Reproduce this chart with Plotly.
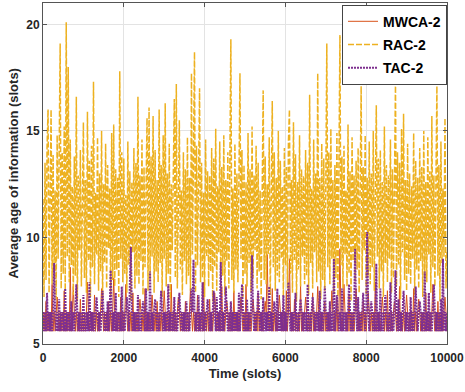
import plotly.graph_objects as go

# Time axis samples (slots)
slots = list(range(0, 10001, 25))

mwca_2 = [
    5.6, 6.5, 5.6, 7.0, 5.6, 6.5, 5.6, 6.5, 5.6, 7.8,
    5.6, 6.5, 5.6, 6.5, 7.2, 6.5, 5.6, 6.5, 5.6, 6.5,
    5.6, 7.5, 5.6, 6.5, 5.6, 6.5, 5.6, 8.6, 5.6, 6.5,
    7.7, 6.5, 5.6, 6.5, 5.6, 6.5, 5.6, 7.1, 5.6, 6.5,
    5.6, 6.5, 5.6, 6.5, 7.9, 6.5, 5.6, 6.5, 5.6, 6.5,
    5.6, 7.3, 5.6, 6.5, 5.6, 6.5, 5.6, 6.5, 7.6, 6.5,
    5.6, 6.5, 5.6, 6.5, 5.6, 7.0, 5.6, 6.5, 5.6, 6.5,
    8.1, 6.5, 5.6, 6.5, 5.6, 6.5, 5.6, 7.2, 5.6, 6.5,
    5.6, 6.5, 7.8, 6.5, 5.6, 6.5, 5.6, 6.5, 5.6, 7.4,
    5.6, 6.5, 5.6, 6.5, 5.6, 6.5, 7.1, 6.5, 5.6, 6.5,
    5.6, 7.6, 5.6, 6.5, 5.6, 6.5, 5.6, 6.5, 7.3, 6.5,
    5.6, 6.5, 5.6, 7.0, 5.6, 6.5, 5.6, 6.5, 5.6, 6.5,
    7.5, 6.5, 5.6, 6.5, 5.6, 6.5, 5.6, 7.8, 5.6, 6.5,
    5.6, 6.5, 5.6, 6.5, 7.2, 6.5, 5.6, 6.5, 5.6, 6.5,
    5.6, 7.0, 5.6, 6.5, 5.6, 6.5, 7.6, 6.5, 5.6, 6.5,
    5.6, 6.5, 5.6, 7.3, 5.6, 6.5, 5.6, 6.5, 5.6, 7.9,
    5.6, 6.5, 5.6, 6.5, 5.6, 7.1, 5.6, 6.5, 5.6, 6.5,
    7.4, 6.5, 5.6, 6.5, 5.6, 6.5, 5.6, 7.7, 5.6, 6.5,
    5.6, 6.5, 7.0, 6.5, 5.6, 6.5, 5.6, 6.5, 5.6, 7.5,
    5.6, 6.5, 5.6, 6.5, 5.6, 6.5, 7.2, 6.5, 5.6, 6.5,
    5.6, 7.8, 5.6, 6.5, 5.6, 6.5, 5.6, 6.5, 7.1, 6.5,
    5.6, 6.5, 5.6, 7.4, 5.6, 6.5, 5.6, 6.5, 5.6, 6.5,
    7.0, 6.5, 9.2, 6.5, 5.6, 6.5, 5.6, 7.6, 5.6, 6.5,
    5.6, 6.5, 5.6, 6.5, 7.3, 6.5, 5.6, 6.5, 5.6, 6.5,
    5.6, 7.5, 5.6, 6.5, 9.0, 6.5, 5.6, 6.5, 5.6, 7.1,
    5.6, 6.5, 5.6, 6.5, 5.6, 7.8, 5.6, 6.5, 5.6, 6.5,
    7.2, 6.5, 5.6, 6.5, 5.6, 6.5, 5.6, 7.4, 5.6, 6.5,
    5.6, 6.5, 7.7, 6.5, 5.6, 6.5, 5.6, 6.5, 5.6, 7.0,
    5.6, 6.5, 5.6, 6.5, 5.6, 6.5, 7.5, 6.5, 5.6, 6.5,
    5.6, 7.1, 5.6, 6.5, 9.47, 6.5, 5.6, 6.5, 7.8, 6.5,
    5.6, 6.5, 5.6, 7.3, 5.6, 6.5, 5.6, 6.5, 5.6, 6.5,
    7.6, 6.5, 5.6, 6.5, 5.6, 6.5, 5.6, 7.0, 5.6, 6.5,
    5.6, 6.5, 7.4, 6.5, 5.6, 6.5, 5.6, 6.5, 5.6, 7.9,
    5.6, 6.5, 5.6, 6.5, 5.6, 6.5, 7.2, 6.5, 5.6, 6.5,
    5.6, 7.5, 5.6, 6.5, 5.6, 6.5, 5.6, 6.5, 7.0, 6.5,
    5.6, 6.5, 5.6, 7.7, 5.6, 6.5, 5.6, 6.5, 5.6, 6.5,
    7.3, 6.5, 5.6, 6.5, 5.6, 6.5, 5.6, 7.6, 5.6, 6.5,
    5.6, 6.5, 7.1, 6.5, 5.6, 6.5, 5.6, 6.5, 5.6, 7.4,
    5.6, 6.5, 5.6, 6.5, 5.6, 6.5, 7.8, 6.5, 5.6, 6.5,
    5.6, 7.0, 5.6, 6.5, 5.6, 6.5, 5.6, 6.5, 7.2, 6.5,
    5.6,
]

rac_2 = [
    11.8, 7.2, 13.5, 8.0, 14.2, 16.0, 7.4, 12.6, 16.0, 7.8,
    13.9, 8.4, 12.2, 7.1, 14.8, 9.0, 13.1, 19.1, 7.6, 14.0,
    8.3, 15.2, 7.5, 20.1, 9.1, 18.0, 7.9, 14.6, 8.7, 12.4,
    7.3, 13.8, 8.2, 16.6, 7.0, 12.9, 9.4, 14.1, 7.7, 13.3,
    15.4, 8.1, 12.7, 7.4, 15.9, 8.9, 13.6, 7.2, 14.3, 8.6,
    17.3, 7.8, 12.1, 9.2, 14.7, 7.5, 13.0, 8.4, 15.0, 7.1,
    12.5, 8.8, 14.4, 7.6, 13.4, 9.5, 12.3, 7.3, 14.9, 8.0,
    15.3, 7.7, 13.2, 8.5, 12.8, 7.2, 17.8, 9.0, 14.0, 7.9,
    13.7, 8.3, 12.0, 7.4, 14.5, 8.7, 13.1, 7.0, 12.6, 9.3,
    14.2, 7.6, 13.5, 8.2, 16.6, 7.8, 12.9, 8.9, 14.6, 7.3,
    13.3, 8.6, 12.4, 15.6, 7.5, 16.1, 8.0, 13.8, 9.1, 15.7,
    7.4, 14.1, 8.4, 12.7, 7.9, 16.0, 8.8, 13.4, 7.2, 14.8,
    9.0, 16.3, 7.7, 13.0, 8.3, 14.4, 7.1, 12.5, 9.4, 14.9,
    16.5, 8.1, 17.2, 7.6, 13.6, 15.5, 8.5, 12.2, 7.3, 14.0,
    8.9, 13.2, 7.8, 14.7, 8.2, 12.8, 7.5, 17.7, 9.2, 13.9,
    18.7, 7.4, 14.3, 8.7, 12.6, 17.0, 7.9, 13.5, 8.1, 12.1,
    7.2, 14.6, 9.1, 13.1, 7.7, 12.9, 8.4, 14.2, 7.0, 13.7,
    8.6, 15.1, 7.5, 12.4, 9.3, 14.5, 7.8, 13.3, 8.2, 14.8,
    7.3, 12.7, 8.9, 14.0, 7.6, 13.6, 19.3, 8.0, 12.3, 7.4,
    14.4, 8.5, 13.0, 7.9, 12.8, 17.7, 9.0, 14.1, 7.2, 13.4,
    8.3, 12.6, 7.7, 14.9, 8.8, 13.2, 7.4, 15.2, 8.1, 12.9,
    9.4, 14.3, 7.6, 13.5, 8.4, 12.2, 7.1, 14.6, 16.9, 8.0,
    13.8, 7.8, 12.5, 9.2, 14.7, 7.3, 13.1, 16.4, 8.6, 14.0,
    7.5, 12.8, 8.2, 15.0, 7.9, 13.6, 9.0, 12.4, 7.2, 14.2,
    8.7, 13.3, 7.6, 14.5, 16.0, 8.3, 12.7, 7.4, 15.4, 8.9,
    13.9, 7.0, 12.6, 8.5, 14.8, 7.7, 13.2, 9.1, 12.9, 7.8,
    14.1, 8.2, 13.5, 7.3, 16.7, 8.8, 12.3, 7.6, 14.6, 9.3,
    13.0, 7.9, 17.7, 8.4, 12.8, 7.1, 14.4, 8.0, 13.7, 7.5,
    12.5, 19.1, 8.6, 14.0, 7.8, 15.1, 9.0, 12.7, 7.4, 13.4,
    8.1, 14.9, 7.2, 12.6, 19.5, 8.7, 13.8, 7.6, 14.3, 9.2,
    12.2, 7.7, 15.3, 8.3, 13.1, 7.0, 14.7, 8.9, 12.9, 7.9,
    13.6, 8.5, 14.2, 7.4, 12.4, 17.1, 8.0, 13.3, 9.4, 14.8,
    7.3, 12.8, 8.2, 14.5, 7.8, 13.0, 8.6, 15.0, 7.5, 12.3,
    16.2, 9.1, 13.7, 7.6, 14.1, 8.4, 12.6, 7.2, 15.2, 8.8,
    13.4, 7.9, 12.9, 9.0, 14.6, 7.4, 13.2, 8.1, 12.5, 17.3,
    7.7, 14.0, 8.7, 13.5, 7.1, 15.1, 9.3, 15.8, 8.0, 12.7,
    7.5, 14.4, 8.3, 13.0, 7.8, 12.4, 9.0, 14.9, 7.3, 13.6,
    8.5, 12.8, 7.6, 14.2, 8.9, 13.3, 7.2, 15.0, 8.1, 12.6,
    7.9, 14.7, 9.2, 13.1, 7.4, 15.7, 8.6, 12.9, 7.7, 14.0,
    17.1, 8.2, 13.4, 7.0, 14.5, 8.8, 12.3, 9.1, 15.6, 7.6,
    9.4,
]

tac_2 = [
    6.5, 5.6, 6.5, 5.6, 7.4, 5.6, 6.5, 5.6, 6.5, 5.6,
    6.5, 8.8, 6.5, 5.6, 6.5, 5.6, 7.1, 5.6, 6.5, 5.6,
    6.5, 5.6, 7.6, 5.6, 6.5, 5.6, 6.5, 5.6, 7.0, 5.6,
    6.5, 5.6, 6.5, 7.8, 6.5, 5.6, 6.5, 5.6, 6.5, 5.6,
    7.3, 5.6, 6.5, 5.6, 6.5, 5.6, 7.9, 5.6, 6.5, 5.6,
    6.5, 5.6, 6.5, 7.2, 6.5, 5.6, 6.5, 5.6, 6.5, 7.5,
    6.5, 5.6, 6.5, 5.6, 7.0, 5.6, 6.5, 8.45, 6.5, 5.6,
    6.5, 5.6, 7.4, 5.6, 6.5, 5.6, 6.5, 5.6, 7.7, 5.6,
    6.5, 5.6, 6.5, 7.2, 6.5, 5.6, 7.9, 9.55, 6.5, 5.6,
    6.5, 5.6, 6.5, 5.6, 7.3, 5.6, 6.5, 5.6, 6.5, 7.0,
    6.5, 5.6, 7.6, 5.6, 6.5, 5.6, 8.4, 5.6, 6.5, 5.6,
    6.5, 7.1, 6.5, 5.6, 6.5, 5.6, 6.5, 7.5, 6.5, 5.6,
    6.5, 5.6, 6.5, 5.6, 7.8, 5.6, 6.5, 5.6, 6.5, 5.6,
    7.2, 5.6, 6.5, 5.6, 6.5, 7.4, 6.5, 5.6, 6.5, 5.6,
    6.5, 5.6, 7.0, 5.6, 6.5, 5.6, 6.5, 7.6, 6.5, 8.96,
    6.5, 5.6, 6.5, 5.6, 7.3, 5.6, 6.5, 5.6, 7.9, 5.6,
    6.5, 5.6, 6.5, 7.1, 6.5, 5.6, 6.5, 5.6, 6.5, 7.5,
    6.5, 5.6, 7.2, 5.6, 6.5, 5.6, 8.85, 5.6, 6.5, 5.6,
    6.5, 7.7, 6.5, 5.6, 6.5, 5.6, 7.0, 5.6, 6.5, 5.6,
    6.5, 5.6, 6.5, 5.6, 7.4, 5.6, 6.5, 7.8, 6.5, 5.6,
    6.5, 5.6, 7.1, 5.6, 6.5, 5.6, 6.5, 9.16, 6.5, 5.6,
    6.5, 5.6, 6.5, 7.5, 6.5, 5.6, 6.5, 5.6, 7.2, 5.6,
    6.5, 5.6, 6.5, 5.6, 7.7, 5.6, 6.5, 5.6, 6.5, 7.0,
    6.5, 5.6, 7.6, 5.6, 6.5, 5.6, 6.5, 5.6, 7.3, 5.6,
    6.5, 5.6, 6.5, 7.9, 6.5, 5.6, 6.5, 5.6, 6.5, 5.6,
    7.4, 5.6, 6.5, 5.6, 6.5, 7.1, 6.5, 5.6, 6.5, 5.6,
    6.5, 5.6, 7.8, 5.6, 6.5, 5.6, 6.5, 7.2, 6.5, 5.6,
    6.5, 5.6, 6.5, 5.6, 7.5, 5.6, 6.5, 5.6, 6.5, 7.7,
    6.5, 5.6, 6.5, 5.6, 7.0, 5.6, 6.5, 5.6, 9.0, 5.6,
    6.5, 7.3, 6.5, 5.6, 6.5, 5.6, 7.6, 5.6, 6.5, 5.6,
    6.5, 5.6, 6.5, 7.8, 6.5, 5.6, 6.5, 5.6, 6.5, 9.47,
    6.5, 5.6, 7.2, 5.6, 6.5, 5.6, 6.5, 7.4, 6.5, 5.6,
    6.5, 10.25, 6.5, 5.6, 6.5, 7.0, 6.5, 5.6, 6.5, 5.6,
    8.77, 5.6, 6.5, 5.6, 7.6, 5.6, 6.5, 5.6, 6.5, 7.3,
    6.5, 5.6, 6.5, 5.6, 7.9, 5.6, 6.5, 5.6, 6.5, 8.46,
    6.5, 5.6, 7.1, 5.6, 6.5, 5.6, 6.5, 7.5, 6.5, 5.6,
    6.5, 5.6, 6.5, 5.6, 7.2, 5.6, 6.5, 5.6, 6.5, 7.7,
    6.5, 5.6, 6.5, 7.0, 6.5, 5.6, 6.5, 5.6, 8.4, 5.6,
    6.5, 5.6, 7.4, 5.6, 6.5, 5.6, 6.5, 7.8, 6.5, 5.6,
    6.5, 5.6, 6.5, 5.6, 7.1, 5.6, 9.0, 5.6, 6.5, 5.6,
    6.5,
]

x_ticks = [0, 2000, 4000, 6000, 8000, 10000]
x_tick_labels = ["0", "2000", "4000", "6000", "8000", "10000"]
y_ticks = [5, 10, 15, 20]

FONT = "Liberation Sans, Arial, sans-serif"

fig = go.Figure()
fig.add_trace(go.Scatter(x=slots, y=mwca_2, mode="lines", name="MWCA-2",
                         legendgroup="a",
                         line=dict(color="#D95319", width=1, dash="solid")))
fig.add_trace(go.Scatter(x=slots, y=rac_2, mode="lines", name="RAC-2",
                         legendgroup="b",
                         line=dict(color="#EDB120", width=1.5, dash="6px,2px")))
fig.add_trace(go.Scatter(x=slots, y=tac_2, mode="lines", name="TAC-2",
                         legendgroup="c",
                         line=dict(color="#7E2F8E", width=2, dash="2px,1px")))

axis_common = dict(
    showline=True, linecolor="#555555", linewidth=1, mirror="ticks",
    ticks="inside", ticklen=4, tickcolor="#555555",
    showgrid=True, gridcolor="#E3E3E3", gridwidth=1, zeroline=False,
    tickfont=dict(family=FONT, size=12, color="#262626", weight="bold"),
    automargin=False,
)

fig.update_layout(
    width=465, height=392,
    margin=dict(l=43, r=18, t=3, b=48),
    paper_bgcolor="white", plot_bgcolor="white",
    font=dict(family=FONT, color="#262626"),
    xaxis=dict(range=[0, 10000], tickvals=x_ticks, ticktext=x_tick_labels,
               ticklabelstandoff=3,
               title=dict(text="<b>Time (slots)</b>", font=dict(size=13), standoff=4),
               **axis_common),
    yaxis=dict(range=[5, 21], tickvals=y_ticks, **axis_common),
    legend=dict(x=1, xanchor="right", y=0.995, yanchor="top",
                bgcolor="white", bordercolor="#444444", borderwidth=1,
                font=dict(family=FONT, size=14, color="#000000", weight="bold"),
                traceorder="grouped", tracegroupgap=2),
    showlegend=True,
    annotations=[dict(
        text="<b>Average age of information (slots)</b>",
        textangle=-90, xref="paper", yref="paper",
        x=(13 - 43) / 404, y=0.5, xanchor="center", yanchor="middle",
        showarrow=False, font=dict(family=FONT, size=13, color="#262626"),
    )],
)

fig.write_html("out.html")
